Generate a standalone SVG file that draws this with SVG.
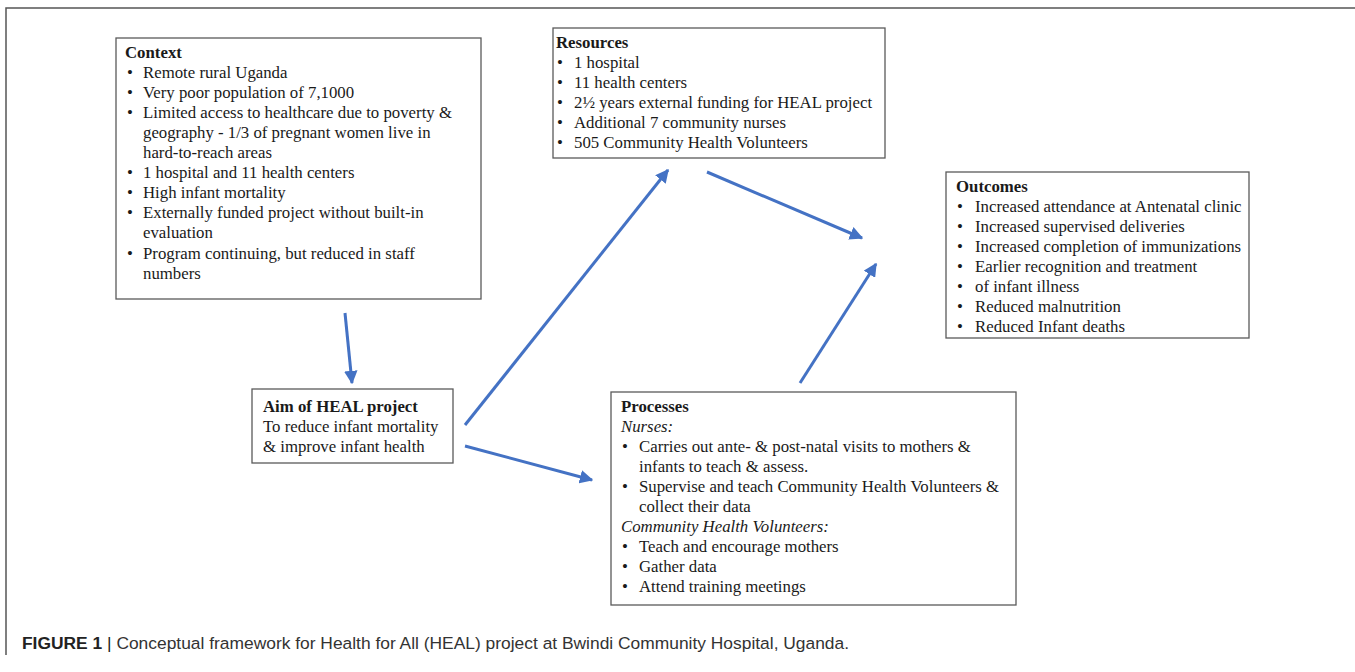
<svg xmlns="http://www.w3.org/2000/svg" width="1355" height="672" viewBox="0 0 1355 672">
<defs>
<style>
.box{fill:#fff;stroke:#5a5a5a;stroke-width:1.3}
.t{font-family:"Liberation Serif","Times New Roman",serif;font-size:16.8px;fill:#1a1a1a}
.b{font-weight:bold}
.i{font-style:italic}
.conn{stroke:#4472C4;stroke-width:3;fill:none;marker-end:url(#ah)}
.frame{stroke:#555;stroke-width:1.5;fill:none}
.cap{font-family:"Liberation Sans",Arial,sans-serif;font-size:17.4px;fill:#333}
</style>
<marker id="ah" viewBox="0 0 10 10" refX="9" refY="5" markerWidth="4.5" markerHeight="4.5" orient="auto" markerUnits="strokeWidth">
<path d="M0,0 L10,5 L0,10 z" fill="#4472C4"/>
</marker>
</defs>
<rect width="1355" height="672" fill="#fff"/>
<path class="frame" d="M1355,8 L6,8 L6,655"/>

<g id="context">
<rect class="box" x="116" y="38" width="365" height="261"/>
<text class="t b" x="125" y="58">Context</text>
<g class="t">
<text x="127" y="78">•</text><text x="143" y="78">Remote rural Uganda</text>
<text x="127" y="98">•</text><text x="143" y="98">Very poor population of 7,1000</text>
<text x="127" y="118">•</text><text x="143" y="118">Limited access to healthcare due to poverty &amp;</text>
<text x="143" y="138">geography - 1/3 of pregnant women live in</text>
<text x="143" y="158">hard-to-reach areas</text>
<text x="127" y="178">•</text><text x="143" y="178">1 hospital and 11 health centers</text>
<text x="127" y="198">•</text><text x="143" y="198">High infant mortality</text>
<text x="127" y="218">•</text><text x="143" y="218">Externally funded project without built-in</text>
<text x="143" y="238">evaluation</text>
<text x="127" y="259">•</text><text x="143" y="259">Program continuing, but reduced in staff</text>
<text x="143" y="279">numbers</text>
</g>
</g>

<g id="resources">
<rect class="box" x="553" y="28" width="332" height="130"/>
<text class="t b" x="556" y="48">Resources</text>
<g class="t">
<text x="557" y="68">•</text><text x="574" y="68">1 hospital</text>
<text x="557" y="88">•</text><text x="574" y="88">11 health centers</text>
<text x="557" y="108">•</text><text x="574" y="108">2½ years external funding for HEAL project</text>
<text x="557" y="128">•</text><text x="574" y="128">Additional 7 community nurses</text>
<text x="557" y="148">•</text><text x="574" y="148">505 Community Health Volunteers</text>
</g>
</g>

<g id="outcomes">
<rect class="box" x="946" y="172" width="303" height="166"/>
<text class="t b" x="956" y="192">Outcomes</text>
<g class="t">
<text x="957" y="212">•</text><text x="975" y="212">Increased attendance at Antenatal clinic</text>
<text x="957" y="232">•</text><text x="975" y="232">Increased supervised deliveries</text>
<text x="957" y="252">•</text><text x="975" y="252">Increased completion of immunizations</text>
<text x="957" y="272">•</text><text x="975" y="272">Earlier recognition and treatment</text>
<text x="957" y="292">•</text><text x="975" y="292">of infant illness</text>
<text x="957" y="312">•</text><text x="975" y="312">Reduced malnutrition</text>
<text x="957" y="332">•</text><text x="975" y="332">Reduced Infant deaths</text>
</g>
</g>

<g id="aim">
<rect class="box" x="252" y="389" width="201" height="74"/>
<text class="t b" x="263" y="412">Aim of HEAL project</text>
<text class="t" x="263" y="432">To reduce infant mortality</text>
<text class="t" x="263" y="452">&amp; improve infant health</text>
</g>

<g id="processes">
<rect class="box" x="611" y="392" width="405" height="213"/>
<text class="t b" x="621" y="412">Processes</text>
<g class="t">
<text class="i" x="621" y="432">Nurses:</text>
<text x="622" y="452">•</text><text x="639" y="452">Carries out ante- &amp; post-natal visits to mothers &amp;</text>
<text x="639" y="472">infants to teach &amp; assess.</text>
<text x="622" y="492">•</text><text x="639" y="492">Supervise and teach Community Health Volunteers &amp;</text>
<text x="639" y="512">collect their data</text>
<text class="i" x="621" y="532">Community Health Volunteers:</text>
<text x="622" y="552">•</text><text x="639" y="552">Teach and encourage mothers</text>
<text x="622" y="572">•</text><text x="639" y="572">Gather data</text>
<text x="622" y="592">•</text><text x="639" y="592">Attend training meetings</text>
</g>
</g>

<g id="connectors">
<line class="conn" x1="345" y1="313" x2="352" y2="383"/>
<line class="conn" x1="465" y1="425" x2="668" y2="170"/>
<line class="conn" x1="707" y1="172" x2="862" y2="238"/>
<line class="conn" x1="800" y1="383" x2="876" y2="264"/>
<line class="conn" x1="465" y1="446" x2="592" y2="480"/>
</g>

<g id="caption">
<text class="cap" x="22" y="649"><tspan font-weight="bold" fill="#222">FIGURE 1</tspan><tspan fill="#222"> | </tspan>Conceptual framework for Health for All (HEAL) project at Bwindi Community Hospital, Uganda.</text>
</g>
</svg>
